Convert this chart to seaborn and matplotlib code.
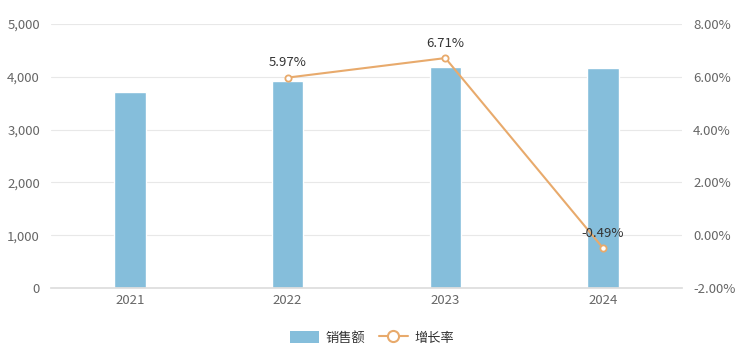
import matplotlib
matplotlib.use("Agg")
import matplotlib.pyplot as plt
import seaborn as sns
import pandas as pd
from matplotlib.patches import Patch
from matplotlib.lines import Line2D
from matplotlib.ticker import FuncFormatter, FixedLocator

years = ["2021", "2022", "2023", "2024"]
sales = [3712, 3922, 4190, 4169]
growth_years = ["2022", "2023", "2024"]
growth = [5.97, 6.71, -0.49]
growth_labels = ["5.97%", "6.71%", "-0.49%"]

bar_color = "#85bedb"
line_color = "#e8aa6c"
text_color = "#666666"
fs = 9.5

sns.set_theme(style="white")
plt.rcParams["font.family"] = ["Noto Sans CJK SC", "DejaVu Sans"]

fig = plt.figure(figsize=(7.44, 3.6), dpi=100)
ax = fig.add_axes([0.0686, 0.2, 0.848, 0.7333])

df = pd.DataFrame({"year": years, "sales": sales})
sns.barplot(data=df, x="year", y="sales", color=bar_color, saturation=1,
            width=0.2, ax=ax, zorder=2)
ax.set_ylim(0, 5000)
ax.set_xlim(-0.5, len(years) - 0.5)
ax.yaxis.set_major_locator(FixedLocator([0, 1000, 2000, 3000, 4000, 5000]))
ax.yaxis.set_major_formatter(FuncFormatter(lambda v, p: f"{int(v):,}"))
ax.grid(axis="y", color="#e8e8e8", linewidth=0.8, zorder=0)
ax.set_axisbelow(True)
ax.set_xlabel("")
ax.set_ylabel("")
for s in ax.spines.values():
    s.set_visible(False)
ax.spines["bottom"].set_visible(True)
ax.spines["bottom"].set_color("#dddddd")
ax.tick_params(axis="both", length=0, colors=text_color, labelsize=fs)
ax.tick_params(axis="y", pad=8)
ax.tick_params(axis="x", pad=4)

ax2 = ax.twinx()
gx = [years.index(y) for y in growth_years]
gdf = pd.DataFrame({"x": gx, "g": growth})
sns.lineplot(data=gdf, x="x", y="g", ax=ax2, color=line_color, linewidth=1.5,
             marker="o", markersize=4.5, markerfacecolor="white",
             markeredgecolor=line_color, markeredgewidth=1.3, zorder=3)
ax2.set_ylim(-2, 8)
ax2.set_xlim(-0.5, len(years) - 0.5)
ax2.yaxis.set_major_locator(FixedLocator([-2, 0, 2, 4, 6, 8]))
ax2.yaxis.set_major_formatter(FuncFormatter(lambda v, p: f"{v:.2f}%"))
ax2.set_xlabel("")
ax2.set_ylabel("")
for s in ax2.spines.values():
    s.set_visible(False)
ax2.tick_params(axis="y", length=0, colors=text_color, labelsize=fs, pad=8)
ax2.grid(False)

for x, g, lab in zip(gx, growth, growth_labels):
    ax2.annotate(lab, (x, g), xytext=(0, 6), textcoords="offset points",
                 ha="center", va="bottom", fontsize=fs, color="#333333")

handles = [
    Patch(facecolor=bar_color, edgecolor="none", label="销售额"),
    Line2D([0], [0], color=line_color, linewidth=1.5, marker="o",
           markersize=8, markerfacecolor="white", markeredgecolor=line_color,
           markeredgewidth=1.5, label="增长率"),
]
fig.legend(handles=handles, loc="center", bbox_to_anchor=(0.5, 0.062),
           ncol=2, frameon=False, fontsize=fs, handlelength=2.2,
           handleheight=1.1, columnspacing=1.0, handletextpad=0.5,
           labelcolor="#333333")

fig.savefig("out.png", dpi=100)
